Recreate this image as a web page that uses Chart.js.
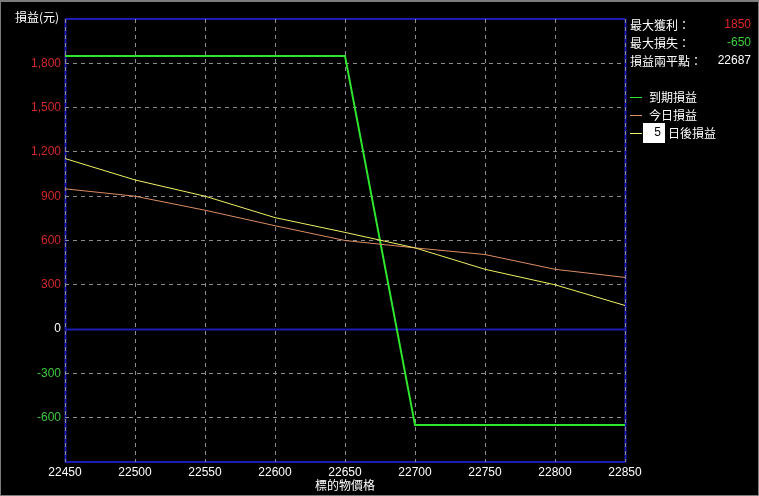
<!DOCTYPE html>
<html>
<head>
<meta charset="utf-8">
<script src="https://cdn.jsdelivr.net/npm/chart.js@4/dist/chart.umd.min.js"></script>
<style>
    body { margin: 0; background: #000; }
    canvas { display: block; }
</style>
</head>
<body>
<canvas id="pl-chart" width="759" height="496"></canvas>
<script>
// 標的物價格
const prices = [22450, 22500, 22550, 22600, 22650, 22700, 22750, 22800, 22850];
// 到期損益
const expiryPL = [1850, 1850, 1850, 1850, 1850, -650, -650, -650, -650];
// 今日損益
const todayPL = [950, 900, 805, 700, 600, 550, 505, 405, 350];
// 5 日後損益
const laterPL = [1155, 1010, 900, 755, 655, 550, 405, 300, 160];

const summaryLabels = ['最大獲利：', '最大損失：', '損益兩平點：'];
const summaryValues = ['1850', '-650', '22687'];
const legendLabels = ['到期損益', '今日損益', '日後損益'];
const laterDays = '5';

const cjkFont = '12px "Noto Sans CJK TC", sans-serif';
const numFont = '12px "Liberation Sans", sans-serif';

function toPoints(values) {
    return prices.map((p, i) => ({ x: p, y: values[i] }));
}

const panelPlugin = {
    id: 'panel',
    beforeDraw(chart) {
        const c = chart.ctx;
        const area = chart.chartArea;
        const y = chart.scales.y;
        c.save();
        c.fillStyle = '#000';
        c.fillRect(0, 0, chart.width, chart.height);
        // 藍色框線與零軸
        c.strokeStyle = '#1c1cb4';
        c.lineWidth = 2;
        c.beginPath();
        c.moveTo(area.left, area.top); c.lineTo(area.right, area.top);
        c.moveTo(area.left, area.bottom); c.lineTo(area.right, area.bottom);
        const zero = Math.round(y.getPixelForValue(0)) + 0.5;
        c.moveTo(area.left, zero); c.lineTo(area.right, zero);
        c.stroke();
        c.beginPath();
        c.moveTo(area.left + 0.5, area.top); c.lineTo(area.left + 0.5, area.bottom);
        c.moveTo(area.right + 0.5, area.top); c.lineTo(area.right + 0.5, area.bottom);
        c.stroke();
        c.restore();
    },
    afterDraw(chart) {
        const c = chart.ctx;
        c.save();
        // 外框
        c.strokeStyle = '#7c7c7c';
        c.lineWidth = 1;
        c.strokeRect(0.5, 1, chart.width - 1, chart.height - 1.5);
        c.fillStyle = '#7c7c7c';
        c.fillRect(0, 0, chart.width, 2);

        c.textBaseline = 'middle';
        c.font = cjkFont;
        c.fillStyle = '#fff';
        c.fillText('損益(元)', 15, 17);

        const valueColors = ['#e02828', '#3cd23c', '#fff'];
        summaryLabels.forEach((label, i) => {
            const ty = 25 + i * 18;
            c.font = cjkFont;
            c.fillStyle = '#fff';
            c.textAlign = 'left';
            c.fillText(label, 630, ty);
            c.font = numFont;
            c.fillStyle = valueColors[i];
            c.textAlign = 'right';
            c.fillText(summaryValues[i], 751, ty);
        });

        const lineColors = ['#2ee62e', '#dc8c64', '#f0f064'];
        c.textAlign = 'left';
        legendLabels.forEach((label, i) => {
            const ty = 97 + i * 18;
            c.strokeStyle = lineColors[i];
            c.lineWidth = 1;
            c.beginPath();
            c.moveTo(630, ty + 0.5);
            c.lineTo(642, ty + 0.5);
            c.stroke();
            c.font = cjkFont;
            c.fillStyle = '#fff';
            if (i === 2) {
                c.fillRect(643, ty - 10, 22, 20);
                c.fillStyle = '#000';
                c.font = numFont;
                c.textAlign = 'right';
                c.fillText(laterDays, 661, ty);
                c.textAlign = 'left';
                c.font = cjkFont;
                c.fillStyle = '#fff';
                c.fillText(label, 668, ty);
            } else {
                c.fillText(label, 649, ty);
            }
        });
        c.restore();
    }
};

const ctx = document.getElementById('pl-chart').getContext('2d');
new Chart(ctx, {
    type: 'line',
    data: {
        datasets: [{
            label: legendLabels[0],
            data: toPoints(expiryPL),
            borderColor: '#2ee62e',
            borderWidth: 2,
            pointRadius: 0,
            tension: 0,
            order: 3
        }, {
            label: legendLabels[1],
            data: toPoints(todayPL),
            borderColor: '#dc8c64',
            borderWidth: 1,
            pointRadius: 0,
            tension: 0,
            order: 2
        }, {
            label: legendLabels[2],
            data: toPoints(laterPL),
            borderColor: '#f0f064',
            borderWidth: 1,
            pointRadius: 0,
            tension: 0,
            order: 1
        }]
    },
    options: {
        responsive: false,
        animation: false,
        devicePixelRatio: 1,
        layout: { padding: { left: 0, top: 19, right: 134, bottom: 0 } },
        plugins: {
            legend: { display: false },
            tooltip: { enabled: false }
        },
        scales: {
            x: {
                type: 'linear',
                min: 22450,
                max: 22850,
                afterFit: (scale) => { scale.height = 34; },
                afterBuildTicks: (scale) => {
                    scale.ticks = prices.map(v => ({ value: v }));
                },
                border: { display: false, dash: [4, 4] },
                grid: { color: '#8c8c8c', drawTicks: false, lineWidth: 1 },
                ticks: {
                    color: '#fff',
                    font: { family: '"Liberation Sans", sans-serif', size: 12 },
                    padding: 3,
                    maxRotation: 0,
                    callback: (v) => String(v)
                },
                title: {
                    display: true,
                    text: '標的物價格',
                    color: '#fff',
                    font: { family: '"Noto Sans CJK TC", sans-serif', size: 12 },
                    padding: { top: 0, bottom: 3 }
                }
            },
            y: {
                min: -900,
                max: 2100,
                afterFit: (scale) => { scale.width = 65; },
                border: { display: false, dash: [4, 4] },
                grid: {
                    drawTicks: false,
                    lineWidth: 1,
                    color: (c) => {
                        const v = c.tick && c.tick.value;
                        return (v === 0 || v === -900 || v === 2100) ? 'rgba(0,0,0,0)' : '#8c8c8c';
                    }
                },
                ticks: {
                    stepSize: 300,
                    padding: 4,
                    font: { family: '"Liberation Sans", sans-serif', size: 12 },
                    color: (c) => {
                        const v = c.tick.value;
                        if (v > 0) return '#d22828';
                        if (v < 0) return '#3cc83c';
                        return '#fff';
                    },
                    callback: (v) => (v === -900 || v === 2100) ? '' : v.toLocaleString('en-US')
                }
            }
        }
    },
    plugins: [panelPlugin]
});
</script>
</body>
</html>
